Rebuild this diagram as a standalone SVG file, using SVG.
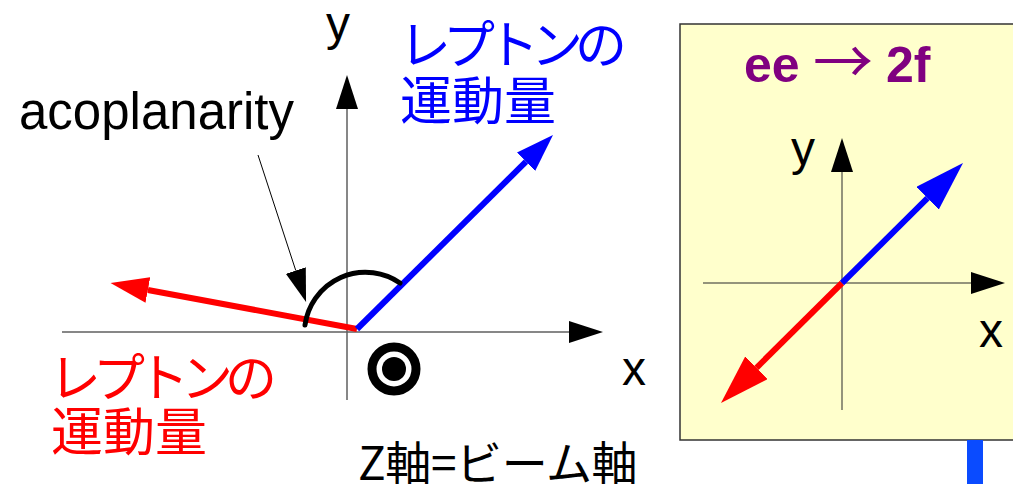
<svg xmlns="http://www.w3.org/2000/svg" width="1013" height="484" viewBox="0 0 1013 484">
  <style>
    .axis { stroke: #5f5f5f; stroke-width: 1.5; fill: none; }
    .axis2 { stroke: #707060; stroke-width: 1.5; fill: none; }
    .vec { stroke-width: 6; fill: none; stroke-linecap: butt; }
    .blue { stroke: #0000ff; }
    .red { stroke: #ff0000; }
    .lbl { font-family: "Liberation Sans", Arial, sans-serif; font-size: 48px; fill: #000; }
    .jp { font-family: "Noto Sans CJK JP", "Noto Sans CJK SC", sans-serif; font-size: 52px; }
    .kana { letter-spacing: -8px; }
    .kanji { letter-spacing: 0px; }
  </style>
  <defs>
    <marker id="axisHead" viewBox="0 0 34 22" refX="0" refY="11" markerWidth="34" markerHeight="22" orient="auto" markerUnits="userSpaceOnUse">
      <path d="M0,0 L34,11 L0,22 Z" fill="#000"/>
    </marker>
    <marker id="headBlueS" viewBox="0 0 38 26" refX="0" refY="13" markerWidth="38" markerHeight="26" orient="auto" markerUnits="userSpaceOnUse">
      <path d="M0,0 L38,13 L0,26 Z" fill="#0000ff"/>
    </marker>
    <marker id="headRedS" viewBox="0 0 38 26" refX="0" refY="13" markerWidth="38" markerHeight="26" orient="auto" markerUnits="userSpaceOnUse">
      <path d="M0,0 L38,13 L0,26 Z" fill="#ff0000"/>
    </marker>
    <marker id="headBlueL" viewBox="0 0 50 32" refX="0" refY="16" markerWidth="50" markerHeight="32" orient="auto" markerUnits="userSpaceOnUse">
      <path d="M0,0 L50,16 L0,32 Z" fill="#0000ff"/>
    </marker>
    <marker id="headRedL" viewBox="0 0 50 32" refX="0" refY="16" markerWidth="50" markerHeight="32" orient="auto" markerUnits="userSpaceOnUse">
      <path d="M0,0 L50,16 L0,32 Z" fill="#ff0000"/>
    </marker>
    <marker id="ptrHead" viewBox="0 0 33 21" refX="0" refY="10.5" markerWidth="33" markerHeight="21" orient="auto" markerUnits="userSpaceOnUse">
      <path d="M0,0 L33,10.5 L0,21 Z" fill="#000"/>
    </marker>
  </defs>

  <rect width="1013" height="484" fill="#ffffff"/>

  <!-- Left panel -->
  <g id="left-axes">
    <line class="axis" x1="62" y1="332" x2="569" y2="332" marker-end="url(#axisHead)"/>
    <line class="axis" x1="347" y1="400" x2="347" y2="109" marker-end="url(#axisHead)"/>
    <text class="lbl" x="326" y="40">y</text>
    <text class="lbl" x="622" y="385">x</text>
  </g>

  <g id="left-vectors">
    <line class="vec red" x1="357" y1="329" x2="147.9" y2="290" marker-end="url(#headRedS)"/>
    <line class="vec blue" x1="357" y1="329" x2="526" y2="161.7" marker-end="url(#headBlueS)"/>
  </g>

  <g id="angle-arc">
    <path d="M305,325 A61,61 0 0 1 400,283" fill="none" stroke="#000" stroke-width="5" stroke-linecap="round"/>
  </g>

  <g id="beam-axis-symbol">
    <circle cx="394" cy="369" r="22" fill="none" stroke="#000" stroke-width="9"/>
    <circle cx="394" cy="369" r="12" fill="#000"/>
  </g>

  <g id="label-acoplanarity">
    <text x="19" y="129" font-family="'Liberation Sans', Arial, sans-serif" font-size="51" fill="#000">acoplanarity</text>
  </g>

  <g id="connectors">
    <line x1="258" y1="155" x2="295.8" y2="270.6" stroke="#000" stroke-width="1" marker-end="url(#ptrHead)"/>
  </g>

  <g id="label-blue">
    <text class="jp" fill="#0000ff"><tspan class="kana" x="399" y="64">レプトンの</tspan><tspan class="kanji" x="400" y="120">運動量</tspan></text>
  </g>

  <g id="label-red">
    <text class="jp" fill="#ff0000"><tspan class="kana" x="49" y="397">レプトンの</tspan><tspan class="kanji" x="51" y="451">運動量</tspan></text>
  </g>

  <g id="label-beam">
    <text x="358" y="480" font-family="'Noto Sans CJK JP', 'Noto Sans CJK SC', sans-serif" font-size="46" letter-spacing="-0.4" fill="#000">Z軸=ビーム軸</text>
  </g>

  <!-- Right panel -->
  <g id="panel-2f">
    <rect x="680" y="24" width="345" height="416" fill="#ffffcc" stroke="#333333" stroke-width="1.5"/>
    <text y="82" font-family="'Liberation Sans', Arial, sans-serif" font-weight="bold" font-size="50" fill="#800080"><tspan x="744">ee</tspan><tspan x="813" y="84" font-family="'Noto Sans CJK JP', 'Noto Sans CJK SC', sans-serif" font-weight="normal" font-size="60">→</tspan><tspan x="886" y="82">2f</tspan></text>
    <line class="axis2" x1="703" y1="283" x2="971" y2="283" marker-end="url(#axisHead)"/>
    <line class="axis2" x1="842" y1="410" x2="842" y2="172" marker-end="url(#axisHead)"/>
    <text class="lbl" x="791" y="165">y</text>
    <text class="lbl" x="979" y="347">x</text>
    <line class="vec red" x1="842" y1="283" x2="756.5" y2="367.8" marker-end="url(#headRedL)"/>
    <line class="vec blue" x1="842" y1="283" x2="927.5" y2="198.2" marker-end="url(#headBlueL)"/>
  </g>

  <g id="blue-bar">
    <rect x="967" y="440" width="16" height="44" fill="#0a4bff"/>
  </g>
</svg>
